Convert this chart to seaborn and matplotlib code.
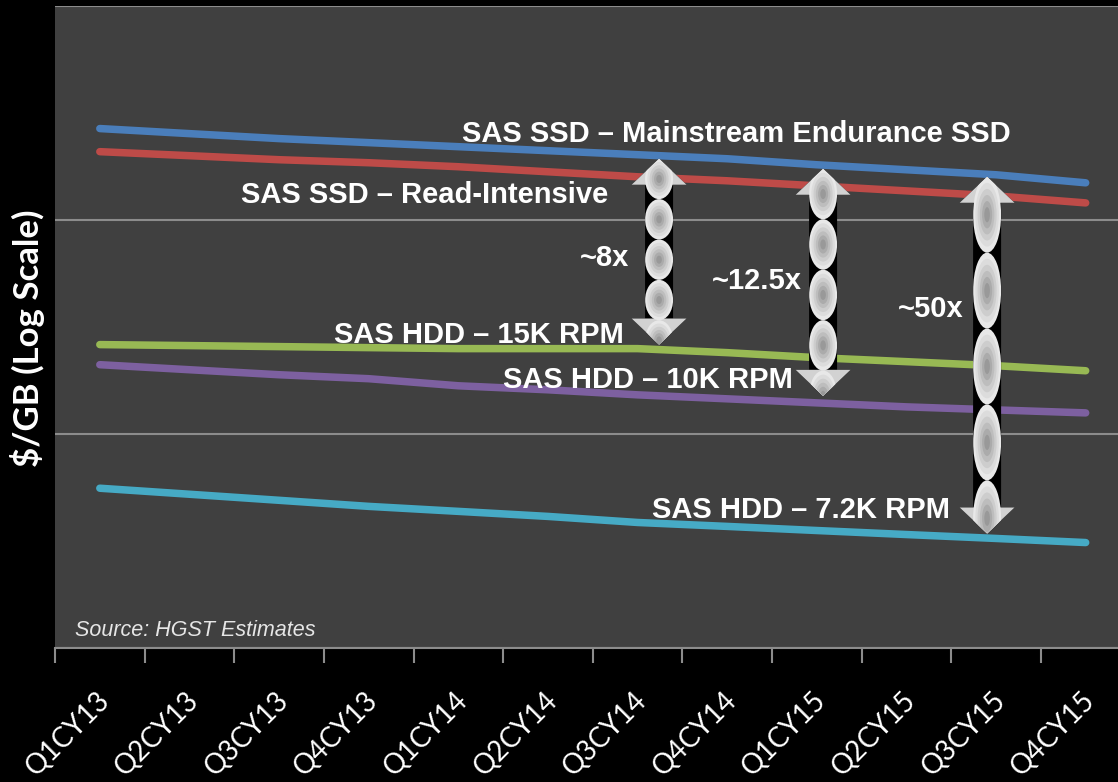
import numpy as np
import pandas as pd
import matplotlib
matplotlib.use("Agg")
import matplotlib.pyplot as plt
from matplotlib.patches import Polygon, Ellipse
from matplotlib.transforms import IdentityTransform, ScaledTranslation
from matplotlib.ticker import FixedLocator, NullLocator, NullFormatter
import seaborn as sns

# ---- data: $/GB estimates per quarter (log scale) ----
quarters = ["Q1CY13", "Q2CY13", "Q3CY13", "Q4CY13",
            "Q1CY14", "Q2CY14", "Q3CY14", "Q4CY14",
            "Q1CY15", "Q2CY15", "Q3CY15", "Q4CY15"]

ssd_mainstream = [2.675, 2.533, 2.401, 2.299, 2.201, 2.108, 2.019, 1.933, 1.812, 1.717, 1.627, 1.492]
ssd_read_int = [2.086, 1.998, 1.913, 1.852, 1.774, 1.680, 1.592, 1.525, 1.444, 1.368, 1.296, 1.202]
hdd_15k = [0.2617, 0.2589, 0.2561, 0.2533, 0.2506, 0.2506, 0.2506, 0.2400, 0.2274, 0.2178, 0.2085, 0.1975]
hdd_10k = [0.2108, 0.1997, 0.1892, 0.1813, 0.1680, 0.1609, 0.1524, 0.1460, 0.1398, 0.1339, 0.1296, 0.1255]
hdd_7k2 = [0.0558, 0.0523, 0.0490, 0.0459, 0.0435, 0.0412, 0.0386, 0.0370, 0.0354, 0.0339, 0.0325, 0.0311]

series_names = ["SAS SSD – Mainstream Endurance SSD", "SAS SSD – Read-Intensive",
                "SAS HDD – 15K RPM", "SAS HDD – 10K RPM", "SAS HDD – 7.2K RPM"]
series_values = [ssd_mainstream, ssd_read_int, hdd_15k, hdd_10k, hdd_7k2]
series_colors = ["#4A7EBB", "#BE4B48", "#98B954", "#7D60A0", "#46AAC5"]

df = pd.concat(
    [pd.DataFrame({"pos": np.arange(len(quarters)), "quarter": quarters,
                   "cost": vals, "series": name})
     for name, vals in zip(series_names, series_values)],
    ignore_index=True)

# ---- styling ----
sns.set_theme(style="dark")
plt.rcParams["font.family"] = ["Liberation Sans", "DejaVu Sans"]

W, H = 1118, 782
fig = plt.figure(figsize=(W / 100, H / 100), dpi=100, facecolor="black")
ax = fig.add_axes([55 / W, 134 / H, 1075.5 / W, 642 / H])
ax.set_facecolor("#404040")

ax.set_yscale("log")
ax.set_ylim(0.01, 10)
ax.set_xlim(-0.5, len(quarters) - 0.5)

sns.lineplot(data=df, x="pos", y="cost", hue="series", hue_order=series_names,
             palette=dict(zip(series_names, series_colors)), linewidth=5.4,
             legend=False, sort=False, solid_capstyle="round", ax=ax, zorder=3)

grid_c = "#8C8C8C"
ax.set_xlabel("")
ax.set_ylabel("")
for side in ["left", "right", "top"]:
    ax.spines[side].set_visible(False)
ax.spines["bottom"].set_visible(True)
ax.spines["bottom"].set_color(grid_c)
ax.spines["bottom"].set_linewidth(1.5)

ax.yaxis.set_major_locator(FixedLocator([0.01, 0.1, 1, 10]))
ax.yaxis.set_minor_locator(NullLocator())
ax.yaxis.set_major_formatter(NullFormatter())
ax.tick_params(axis="y", length=0)
ax.yaxis.grid(True, color=grid_c, linewidth=1.5)
ax.xaxis.grid(False)

ax.xaxis.set_major_locator(FixedLocator(np.arange(len(quarters))))
ax.set_xticklabels(quarters, rotation=45, ha="right", va="top",
                   rotation_mode="anchor", color="white", fontsize=20,
                   family=["Lato", "DejaVu Sans"])
ax.tick_params(axis="x", which="major", length=0, pad=28)
shift = ScaledTranslation(-4 / 100, 0, fig.dpi_scale_trans)
for lbl in ax.get_xticklabels():
    lbl.set_transform(lbl.get_transform() + shift)
ax.xaxis.set_minor_locator(FixedLocator(np.arange(len(quarters) + 1) - 0.5))
ax.tick_params(axis="x", which="minor", length=11, width=1.5, color=grid_c,
               direction="out", bottom=True)

fig.text(28 / W, 1 - 338 / H, "$/GB (Log Scale)", rotation=90, ha="center",
         va="center", color="white", fontsize=25, fontweight="bold",
         family=["Lato", "DejaVu Sans"])

# ---- series labels ----
lab_kw = dict(color="white", fontsize=21, fontweight="bold", va="baseline", zorder=6)
ax.text(4.04, 2.323, series_names[0], ha="left", **lab_kw)
ax.text(1.576, 1.202, series_names[1], ha="left", **lab_kw)
ax.text(2.614, 0.2675, series_names[2], ha="left", **lab_kw)
ax.text(4.50, 0.1644, series_names[3], ha="left", **lab_kw)
ax.text(6.163, 0.0403, series_names[4], ha="left", **lab_kw)

ax.text(5.906, 0.608, "~8x", ha="right", **lab_kw)
ax.text(7.837, 0.4744, "~12.5x", ha="right", **lab_kw)
ax.text(9.634, 0.3504, "~50x", ha="right", **lab_kw)

ax.text(-0.277, 0.01138, "Source: HGST Estimates", ha="left", va="baseline",
        color="#E6E6E6", fontsize=15.5, style="italic", zorder=6)


# ---- decorative double-headed arrows ----
def double_arrow(x, y_top, y_bot, shaft_w=28, head_w=55, head_len=26, n_tiles=4.6):
    X, Yt = ax.transData.transform((x, y_top))
    _, Yb = ax.transData.transform((x, y_bot))
    hs, hh = shaft_w / 2, head_w / 2
    pts = [(X, Yt), (X + hh, Yt - head_len), (X + hs, Yt - head_len),
           (X + hs, Yb + head_len), (X + hh, Yb + head_len), (X, Yb),
           (X - hh, Yb + head_len), (X - hs, Yb + head_len),
           (X - hs, Yt - head_len), (X - hh, Yt - head_len)]
    ident = IdentityTransform()
    outline = Polygon(pts, closed=True, transform=ident, fc="black", ec="none", zorder=5)
    ax.add_patch(outline)
    for tip, sgn in [(Yt, -1), (Yb, 1)]:
        tri = Polygon([(X, tip), (X + hh, tip + sgn * head_len), (X - hh, tip + sgn * head_len)],
                      closed=True, transform=ident, fc="#D2D2D2", ec="none", zorder=5)
        ax.add_patch(tri)
    tile_h = (Yt - Yb) / n_tiles
    shades = ["#E8E8E8", "#DCDCDC", "#CDCDCD", "#BDBDBD", "#ABABAB", "#999999"]
    yc = Yt - tile_h / 2
    while yc - tile_h / 2 > Yb - tile_h:
        for k, c in enumerate(shades):
            f = 1 - k * 0.16
            e = Ellipse((X, yc), shaft_w * f, tile_h * f, transform=ident,
                        fc=c, ec="none", zorder=5.1)
            ax.add_patch(e)
            e.set_clip_path(outline)
        yc -= tile_h


double_arrow(6.24, 1.933, 0.262, n_tiles=4.6)
double_arrow(8.07, 1.735, 0.1508, n_tiles=4.5)
double_arrow(9.90, 1.592, 0.0343, n_tiles=4.7)

fig.savefig("out.png", dpi=100, facecolor="black")
